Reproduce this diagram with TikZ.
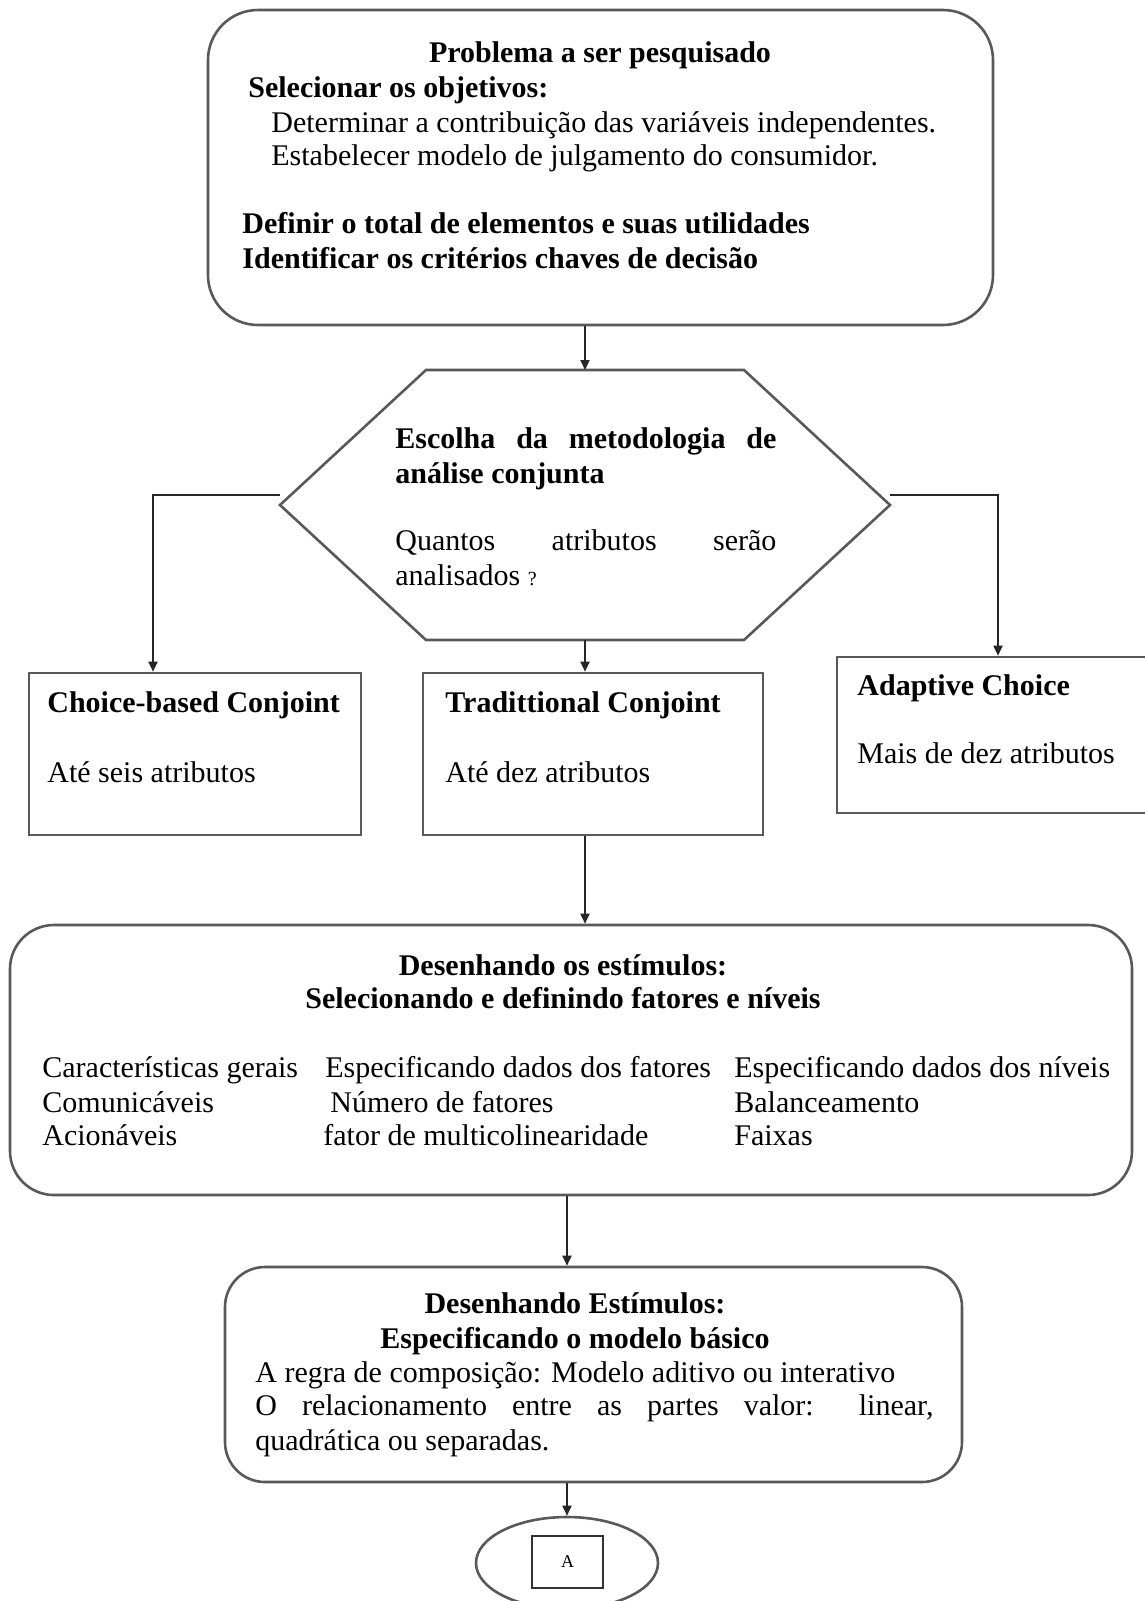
\documentclass[tikz,border=0pt]{standalone}
\usepackage{fontspec}
\setmainfont{Liberation Serif}
\usetikzlibrary{arrows.meta,shapes.geometric,fit,calc}
\begin{document}
\begin{tikzpicture}[x=0.5pt,y=-0.5pt,
  boxline/.style={draw=black!65,line width=1.3pt},
  frame/.style={boxline,inner sep=0pt},
  txt/.style={inner sep=0pt,anchor=base west,font=\fontsize{15}{17}\selectfont},
  txtb/.style={inner sep=0pt,anchor=base west,font=\fontsize{15}{17}\selectfont\bfseries},
  ttl/.style={inner sep=0pt,anchor=base,font=\fontsize{15}{17}\selectfont\bfseries},
  arr/.style={draw=black!85,line width=0.9pt,-{Triangle[length=5pt,width=4.5pt]}}]
\useasboundingbox (0,0) rectangle (1145,1601);
\clip (0,0) rectangle (1145,1601);

% top box
\node[frame,rounded corners=25pt,fit={(208,10) (993,325)}] (top) {};
\node[ttl] (t1) at (600,62) {Problema a ser pesquisado};
\node[txtb] (t2) at (248,97) {Selecionar os objetivos:};
\node[txt] (t3) at (271,132) {Determinar a contribuição das variáveis independentes.};
\node[txt] (t4) at (271,165) {Estabelecer modelo de julgamento do consumidor.};
\node[txtb] (t5) at (242,233) {Definir o total de elementos e suas utilidades};
\node[txtb] (t6) at (242,268) {Identificar os critérios chaves de decisão};

% hexagon
\coordinate (hexL) at (280,505);
\coordinate (hexR) at (890,505);
\coordinate (hexTL) at (426,370);
\coordinate (hexTR) at (744,370);
\coordinate (hexBL) at (426,640);
\coordinate (hexBR) at (744,640);
\coordinate (hexT) at (585,370);
\coordinate (hexB) at (585,640);
\draw[boxline] (hexL) -- (hexTL) -- (hexTR) -- (hexR) -- (hexBR) -- (hexBL) -- cycle;
\node[txtb] (h1) at (395,448) {\makebox[190.5pt][s]{Escolha da metodologia de}};
\node[txtb] (h2) at (395,483) {análise conjunta};
\node[txt] (h3) at (395,550) {\makebox[190.5pt][s]{Quantos atributos serão}};
\node[txt] (h4) at (395,585) {analisados {\fontsize{10}{12}\selectfont ?}};
\coordinate (lj) at (280,495);
\coordinate (rj) at (890,495);
\coordinate (lx) at (153,0);
\coordinate (rx) at (998,0);

% three method boxes
\node[frame,fit={(29,673) (361,835)}] (choice) {};
\node[txtb] (c1) at (47,712) {Choice-based Conjoint};
\node[txt] (c2) at (47,782) {Até seis atributos};
\node[frame,fit={(423,673) (763,835)}] (trad) {};
\node[txtb] (d1) at (445,712) {Tradittional Conjoint};
\node[txt] (d2) at (445,782) {Até dez atributos};
\node[frame,fit={(837,657) (1175,813)}] (adapt) {};
\node[txtb] (a1) at (857,695) {Adaptive Choice};
\node[txt] (a2) at (857,763) {Mais de dez atributos};

% big box
\node[frame,rounded corners=22pt,fit={(10,925) (1132,1195)}] (big) {};
\node[ttl] (b1) at (563,975) {Desenhando os estímulos:};
\node[ttl] (b2) at (563,1008) {Selecionando e definindo fatores e níveis};
\node[txt] (k1) at (42,1077) {Características gerais};
\node[txt] (k2) at (42,1112) {Comunicáveis};
\node[txt] (k3) at (42,1145) {Acionáveis};
\node[txt] (m1) at (325,1077) {Especificando dados dos fatores};
\node[txt] (m2) at (330,1112) {Número de fatores};
\node[txt] (m3) at (323,1145) {fator de multicolinearidade};
\node[txt] (n1) at (734,1077) {Especificando dados dos níveis};
\node[txt] (n2) at (734,1112) {Balanceamento};
\node[txt] (n3) at (734,1145) {Faixas};

% bottom box
\node[frame,rounded corners=20pt,fit={(225,1267) (962,1482)}] (bot) {};
\node[ttl] (e1) at (575,1313) {Desenhando Estímulos:};
\node[ttl] (e2) at (575,1348) {Especificando o modelo básico};
\node[txt] (e3) at (255,1382) {A regra de composição: Modelo aditivo ou interativo};
\node[txt] (e4) at (255,1415) {\makebox[339pt][s]{O relacionamento entre as partes valor: linear,}};
\node[txt] (e5) at (255,1450) {quadrática ou separadas.};

% connector ellipse
\node[ellipse,boxline,inner sep=0pt,minimum width=91pt,minimum height=46pt] (ell) at (567,1563) {};
\node[draw=black!80,line width=1.1pt,inner sep=0pt,minimum width=35.5pt,minimum height=26pt,font=\fontsize{9}{10}\selectfont] (sq) at (567.5,1562) {A};

% connectors
\draw[arr] (top.south -| hexT) -- (hexT);
\draw[arr] (lj) -| (choice.north -| lx);
\draw[arr] (rj) -| (adapt.north -| rx);
\draw[arr] (hexB) -- (hexB |- trad.north);
\draw[arr] (trad.south -| hexB) -- (big.north -| hexB);
\draw[arr] (big.south -| ell) -- (bot.north -| ell);
\draw[arr] (bot.south -| ell) -- (ell.north);
\end{tikzpicture}
\end{document}
